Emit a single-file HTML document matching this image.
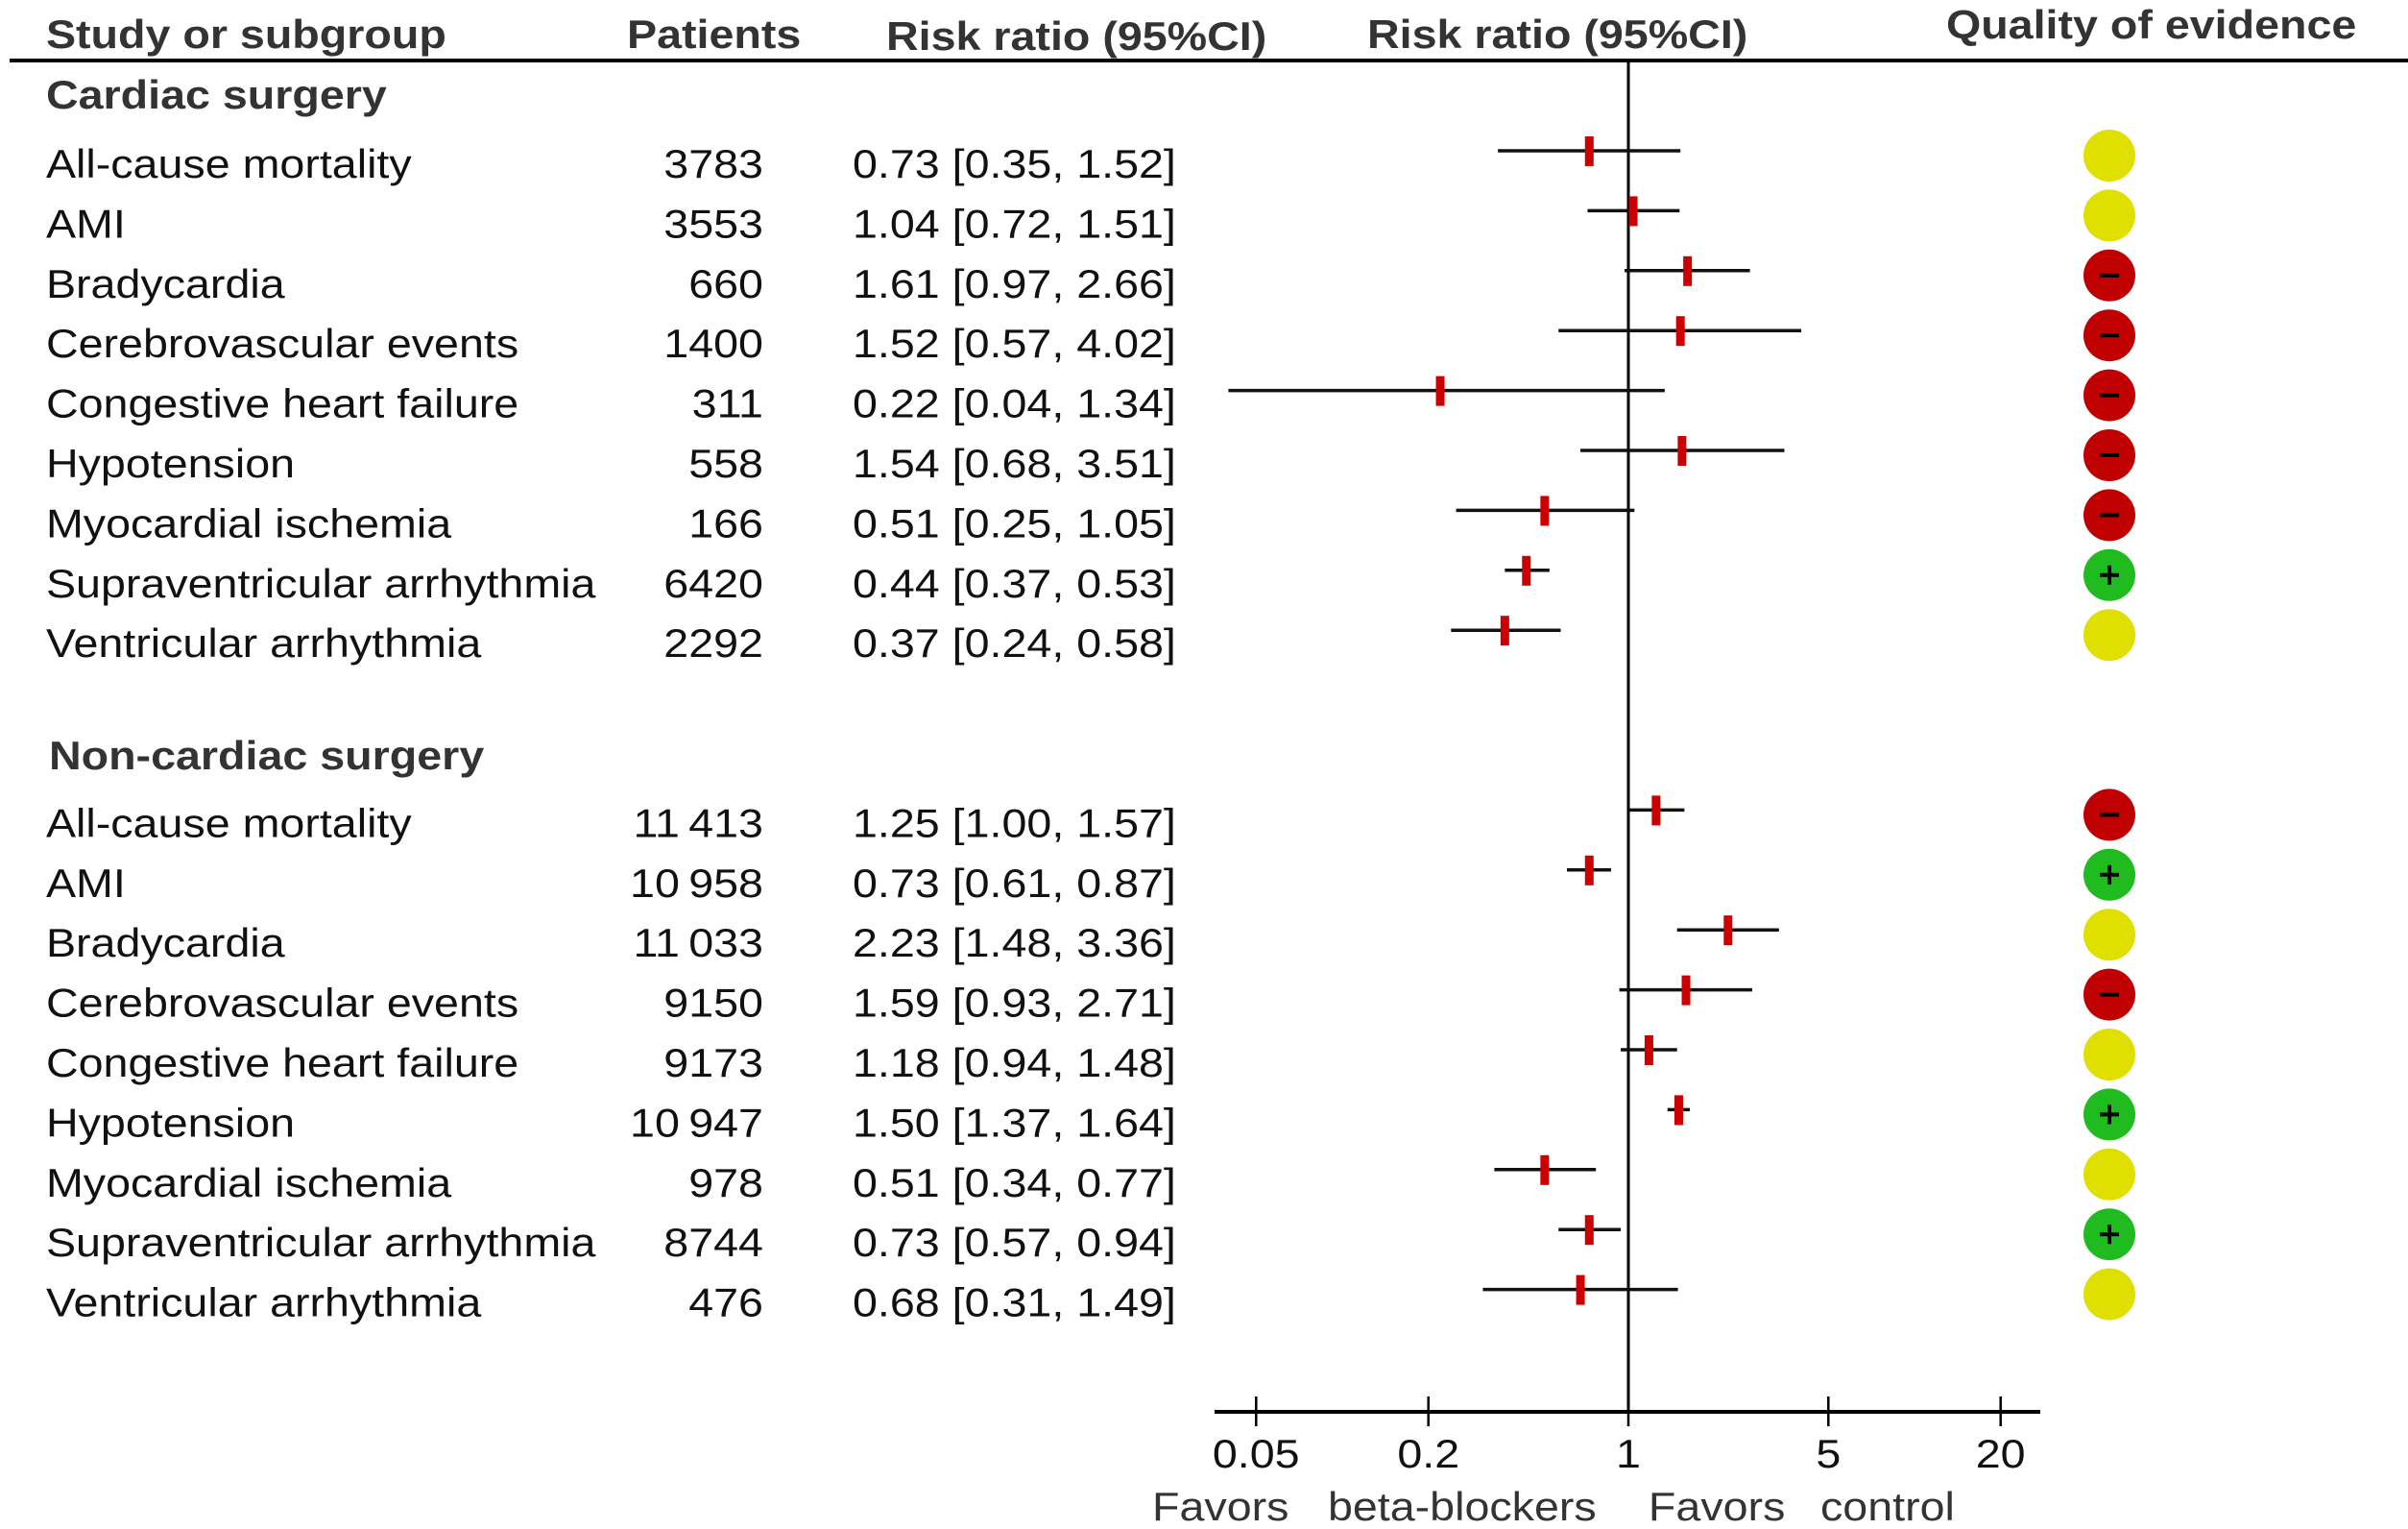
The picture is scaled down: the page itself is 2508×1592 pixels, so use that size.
<!DOCTYPE html>
<html><head><meta charset="utf-8"><style>
html,body{margin:0;padding:0;background:#fff;}
svg{display:block;font-family:"Liberation Sans",Arial,sans-serif;}
</style></head><body>
<svg id="chart" width="2508" height="1592" viewBox="0 0 2508 1592" xmlns="http://www.w3.org/2000/svg">
<line x1="10" y1="63" x2="2508" y2="63" stroke="#000" stroke-width="4"/>
<g id="texts" transform="scale(1.11,1)" font-size="42" fill="#111"></g>
<g id="marks"></g>
</svg>
<script>
const names = ["All-cause mortality","AMI","Bradycardia","Cerebrovascular events","Congestive heart failure","Hypotension","Myocardial ischemia","Supraventricular arrhythmia","Ventricular arrhythmia"];
const cardPatients = ["3783","3553","660","1400","311","558","166","6420","2292"];
const cardRR = [0.73,1.04,1.61,1.52,0.22,1.54,0.51,0.44,0.37];
const cardLo = [0.35,0.72,0.97,0.57,0.04,0.68,0.25,0.37,0.24];
const cardHi = [1.52,1.51,2.66,4.02,1.34,3.51,1.05,0.53,0.58];
const cardQ = ["y","y","r","r","r","r","r","g","y"];
const nonPatients = ["11\u2009413","10\u2009958","11\u2009033","9150","9173","10\u2009947","978","8744","476"];
const nonRR = [1.25,0.73,2.23,1.59,1.18,1.50,0.51,0.73,0.68];
const nonLo = [1.00,0.61,1.48,0.93,0.94,1.37,0.34,0.57,0.31];
const nonHi = [1.57,0.87,3.36,2.71,1.48,1.64,0.77,0.94,1.49];
const nonQ = ["r","g","y","r","y","g","y","g","y"];
const ticks = [0.05,0.2,1,5,20];
const plotLoClamp = [0.036];

const NS="http://www.w3.org/2000/svg";
const SX=1.11;
const T=document.getElementById('texts'), M=document.getElementById('marks');
const xs = v => 1696 + 298*Math.log10(Math.max(v,plotLoClamp[0]));
const rowY = k => 157 + 62.4*k;
function mk(parent,tag,attrs){const e=document.createElementNS(NS,tag);for(const k in attrs)e.setAttribute(k,attrs[k]);parent.appendChild(e);return e;}
function txt(x,y,s,opts){const e=mk(T,'text',{x:(x/SX).toFixed(1),y:y});e.textContent=s;if(opts&&opts.bold)e.setAttribute('font-weight','bold');if(opts&&opts.end)e.setAttribute('text-anchor','end');if(opts&&opts.mid)e.setAttribute('text-anchor','middle');if(opts&&opts.fill)e.setAttribute('fill',opts.fill);return e;}
const fmt=v=>v.toFixed(2);
const qcol={y:"#dfe000",r:"#c00000",g:"#1fbb1f"};

let e;
e=txt(48,50,"Study or subgroup",{bold:1,fill:"#333"});


e=txt(653,50,"Patients",{bold:1,fill:"#333"});


e=txt(923,52,"Risk ratio (95%CI)",{bold:1,fill:"#333"});


e=txt(1424,50,"Risk ratio (95%CI)",{bold:1,fill:"#333"});


e=txt(2027,40,"Quality of evidence",{bold:1,fill:"#333"});


e=txt(48,113,"Cardiac surgery",{bold:1,fill:"#333"});


e=txt(51,801,"Non-cardiac surgery",{bold:1,fill:"#333"});



e=mk(M,'line',{x1:xs(1),y1:63,x2:xs(1),y2:1470,stroke:"#000","stroke-width":3});



function drawGroup(offset,pats,rr,lo,hi,q,tag){
  for(let i=0;i<names.length;i++){
    const y=rowY(offset+i);
    e=txt(48,y+28,names[i]);
    
    
    e=txt(795,y+28,pats[i],{end:1});
    
    
    e=txt(888,y+28,fmt(rr[i])+" ["+fmt(lo[i])+", "+fmt(hi[i])+"]");
    
    
    e=mk(M,'line',{x1:xs(lo[i]),y1:y,x2:xs(hi[i]),y2:y,stroke:"#111","stroke-width":3.5});
    
    
    e=mk(M,'rect',{x:xs(rr[i])-4.5,y:y-15,width:9,height:31,fill:"#cc0000"});
    
    
    const cx=2197, cy=y+5;
    e=mk(M,'circle',{cx:cx,cy:cy,r:27,fill:qcol[q[i]]});
    
    
    if(q[i]!=="y"){
      mk(M,'rect',{x:cx-10,y:cy-2,width:20,height:4,fill:"#000"});
      if(q[i]==="g") mk(M,'rect',{x:cx-2,y:cy-10,width:4,height:20,fill:"#000"});
    }
  }
}
drawGroup(0,cardPatients,cardRR,cardLo,cardHi,cardQ,'cardiac');
drawGroup(11,nonPatients,nonRR,nonLo,nonHi,nonQ,'noncardiac');

e=mk(M,'line',{x1:1265,y1:1470,x2:2125,y2:1470,stroke:"#000","stroke-width":4});


ticks.forEach(t=>{
  e=mk(M,'line',{x1:xs(t),y1:1454,x2:xs(t),y2:1485,stroke:"#000","stroke-width":2.5});
  
  
  e=txt(xs(t),1528,String(t),{mid:1});
  
  
});
[["Favors",1200],["beta-blockers",1383],["Favors",1717],["control",1896]].forEach(w=>{
  e=txt(w[1],1583,w[0],{fill:"#333"});
  
  
});
</script>
</body></html>
